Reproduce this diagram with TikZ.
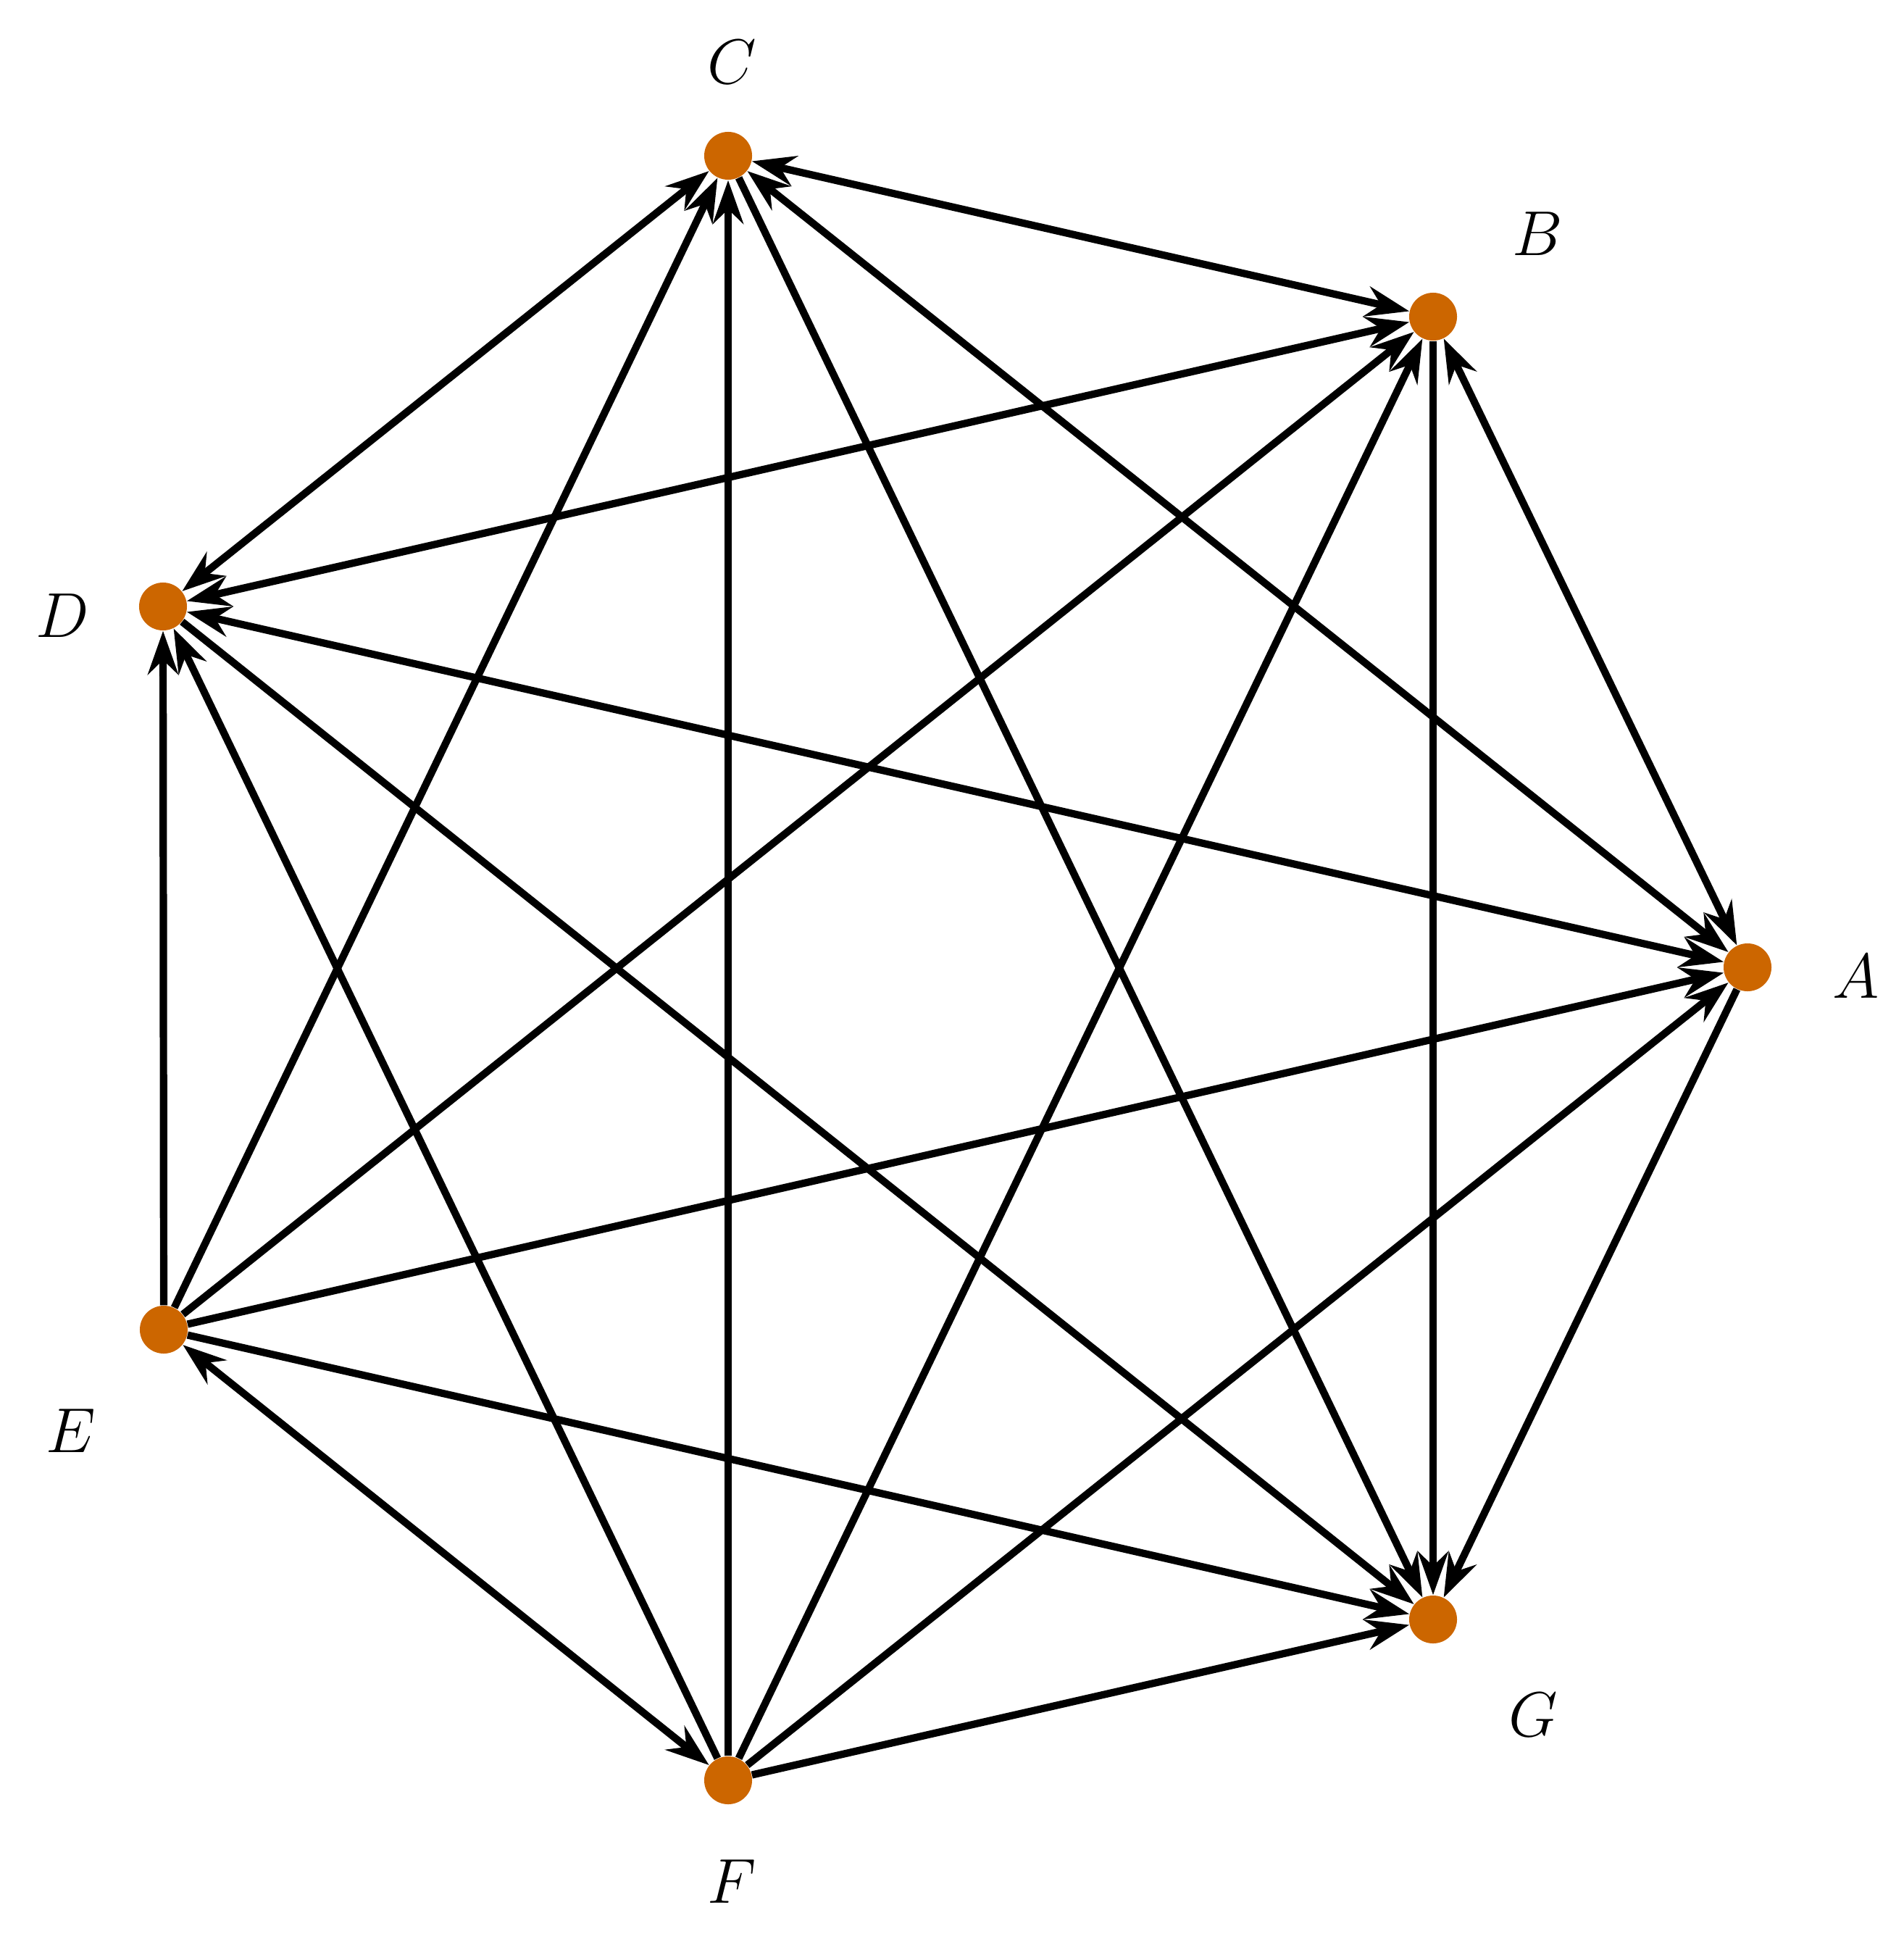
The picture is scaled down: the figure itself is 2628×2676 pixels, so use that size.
\documentclass[tikz,border=0pt]{standalone}
\usetikzlibrary{arrows.meta}
\begin{document}
\begin{tikzpicture}[x=0.01cm,y=-0.01cm,
  vert/.style={circle,fill={rgb,255:red,204;green,102;blue,0},inner sep=0pt,minimum size=0.66cm},
  lab/.style={font=\fontsize{34}{40}\selectfont},
  edge/.style={line width=2.9pt,-{Stealth[length=0.6cm,width=0.42cm,inset=0.2cm]}},
  dedge/.style={line width=2.9pt,{Stealth[length=0.6cm,width=0.42cm,inset=0.2cm]}-{Stealth[length=0.6cm,width=0.42cm,inset=0.2cm]}}]
\useasboundingbox (0,0) rectangle (2628,2676);
\node[vert] (C) at (1005,215) {};
\node[vert] (B) at (1978,437) {};
\node[vert] (D) at (225,837) {};
\node[vert] (A) at (2412,1335) {};
\node[vert] (E) at (226,1835) {};
\node[vert] (G) at (1978,2235) {};
\node[vert] (F) at (1005,2457) {};
\node[lab] (lC) at (1010,86) {$C$};
\node[lab] (lB) at (2122,323) {$B$};
\node[lab] (lD) at (86,850) {$D$};
\node[lab] (lA) at (2562,1348) {$A$};
\node[lab] (lE) at (98,1975) {$E$};
\node[lab] (lG) at (2116,2367) {$G$};
\node[lab] (lF) at (1010,2597) {$F$};
\draw[dedge] (A) -- (B);
\draw[dedge] (A) -- (C);
\draw[dedge] (A) -- (D);
\draw[edge] (E) -- (A);
\draw[edge] (F) -- (A);
\draw[edge] (A) -- (G);
\draw[dedge] (B) -- (C);
\draw[dedge] (B) -- (D);
\draw[edge] (E) -- (B);
\draw[edge] (F) -- (B);
\draw[edge] (B) -- (G);
\draw[dedge] (C) -- (D);
\draw[edge] (E) -- (C);
\draw[edge] (F) -- (C);
\draw[edge] (C) -- (G);
\draw[edge] (E) -- (D);
\draw[edge] (F) -- (D);
\draw[edge] (D) -- (G);
\draw[dedge] (E) -- (F);
\draw[edge] (E) -- (G);
\draw[edge] (F) -- (G);
\end{tikzpicture}
\end{document}
